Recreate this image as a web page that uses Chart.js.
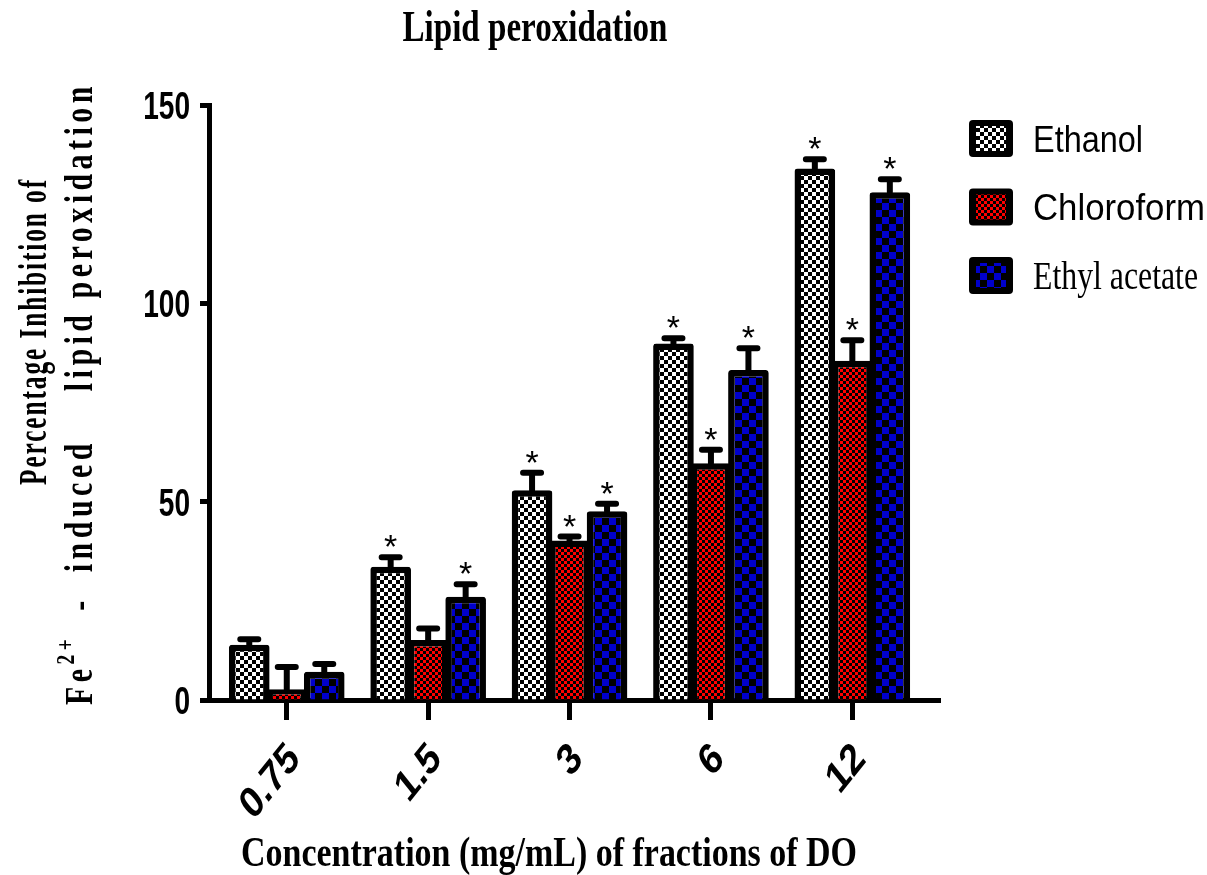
<!DOCTYPE html>
<html>
<head>
<meta charset="utf-8">
<script src="https://cdn.jsdelivr.net/npm/chart.js@4/dist/chart.umd.min.js"></script>
<style>
    html, body { margin: 0; padding: 0; background: #fff; }
</style>
</head>
<body>
<canvas id="grafico-lipid" width="1207" height="875"></canvas>
<script>
// Dados: inibição (%) da peroxidação lipídica por fração, média + erro (só o lado de cima é desenhado)
const concentracoes = ['0.75', '1.5', '3', '6', '12']
const fracoes = ['Ethanol', 'Chloroform', 'Ethyl acetate']

const etanol = [13.9, 33.6, 52.9, 89.9, 134.0]
const etanolErro = [1.4, 2.4, 4.4, 1.3, 2.3]
const etanolSignificativo = [false, true, true, true, true]

const cloroformio = [2.7, 15.1, 40.2, 59.7, 85.5]
const cloroformioErro = [5.6, 2.9, 1.0, 3.4, 5.2]
const cloroformioSignificativo = [false, false, true, true, true]

const acetato = [7.1, 26.0, 47.6, 83.2, 128.0]
const acetatoErro = [2.0, 3.2, 1.9, 5.5, 3.3]
const acetatoSignificativo = [false, true, true, true, true]

const ticksY = [0, 50, 100, 150]

// padrões xadrez de cada fração
function criarPadrao(fundo, frente, tam) {
    const c = document.createElement('canvas')
    c.width = c.height = tam
    const ctx = c.getContext('2d')
    ctx.fillStyle = fundo
    ctx.fillRect(0, 0, tam, tam)
    ctx.fillStyle = frente
    ctx.fillRect(0, 0, tam / 2, tam / 2)
    ctx.fillRect(tam / 2, tam / 2, tam / 2, tam / 2)
    return ctx.createPattern(c, 'repeat')
}

const padroes = [
    criarPadrao('#ffffff', '#000000', 8),
    criarPadrao('#ff0000', '#000000', 6),
    criarPadrao('#0000cc', '#000000', 14)
]

const serifBold = size => `bold ${size}px "Liberation Serif", "Times New Roman", serif`
const sansBold = size => `bold ${size}px "Liberation Sans", Arial, sans-serif`
const sans = size => `${size}px "Liberation Sans", Arial, sans-serif`
const serif = size => `${size}px "Liberation Serif", "Times New Roman", serif`

// escreve partes de texto, estreitando na horizontal até caber na largura pedida
function desenharTexto(ctx, partes, x, y, { largura, escala = 1, espaco = 0, alinhar = 'left', angulo = 0 } = {}) {
    ctx.save()
    ctx.translate(x, y)
    ctx.rotate(angulo)
    ctx.fillStyle = '#000'
    ctx.textAlign = 'left'
    ctx.textBaseline = 'alphabetic'
    ctx.letterSpacing = espaco + 'px'
    const larguras = partes.map(p => {
        ctx.font = p.fonte
        return ctx.measureText(p.texto).width
    })
    const total = larguras.reduce((a, b) => a + b, 0)
    const k = largura ? largura / total : escala
    ctx.scale(k, 1)
    let cursor = alinhar === 'right' ? -total : alinhar === 'center' ? -total / 2 : 0
    partes.forEach((p, i) => {
        ctx.font = p.fonte
        ctx.fillText(p.texto, cursor, p.dy || 0)
        cursor += larguras[i]
    })
    ctx.restore()
}

const barrasErroPlugin = {
    id: 'barrasErro',
    afterDatasetsDraw(chart) {
        const ctx = chart.ctx
        const escalaY = chart.scales.y
        chart.data.datasets.forEach((ds, i) => {
            chart.getDatasetMeta(i).data.forEach((barra, j) => {
                const topo = escalaY.getPixelForValue(ds.data[j].y + ds.erro[j])
                ctx.save()
                ctx.strokeStyle = '#000'
                ctx.lineWidth = 6
                ctx.lineCap = 'round'
                ctx.beginPath()
                ctx.moveTo(barra.x, barra.y)
                ctx.lineTo(barra.x, topo)
                ctx.moveTo(barra.x - 9, topo)
                ctx.lineTo(barra.x + 9, topo)
                ctx.stroke()
                if (ds.significativo[j]) {
                    ctx.fillStyle = '#000'
                    ctx.font = sans(34)
                    ctx.textAlign = 'center'
                    ctx.fillText('*', barra.x, topo + 1)
                }
                ctx.restore()
            })
        })
    }
}

const estiloLegenda = [
    { fonte: sans(36), largura: 110, meiaAltura: 13 },
    { fonte: sans(36), largura: 172, meiaAltura: 13 },
    { fonte: serif(40), largura: 165, meiaAltura: 13 }
]

const textosPlugin = {
    id: 'textosFigura',
    afterDraw(chart) {
        const ctx = chart.ctx
        const { x, y } = chart.scales

        // título
        desenharTexto(ctx, [{ texto: 'Lipid peroxidation', fonte: serifBold(44) }], 535, 41, { largura: 265, alinhar: 'center' })

        // rótulos do eixo y
        y.ticks.forEach(t => {
            desenharTexto(ctx, [{ texto: String(t.value), fonte: sansBold(39) }], 190, y.getPixelForValue(t.value) + 14, { escala: 0.72, alinhar: 'right' })
        })

        // rótulos do eixo x, inclinados
        x.ticks.forEach(t => {
            ctx.save()
            ctx.translate(x.getPixelForValue(t.value) + 8, 752)
            ctx.scale(0.8, 1)
            ctx.rotate(-Math.PI / 4)
            ctx.font = sansBold(44)
            ctx.fillStyle = '#000'
            ctx.textAlign = 'right'
            ctx.textBaseline = 'middle'
            ctx.fillText(concentracoes[t.value], 0, 0)
            ctx.restore()
        })

        // título do eixo x
        desenharTexto(ctx, [{ texto: 'Concentration (mg/mL) of fractions of DO', fonte: serifBold(42) }], 241, 866, { largura: 616 })

        // título do eixo y em duas linhas
        desenharTexto(ctx, [{ texto: 'Percentage Inhibition of', fonte: serifBold(40) }], 46, 485, { largura: 307, espaco: 3, angulo: -Math.PI / 2 })
        desenharTexto(ctx, [
            { texto: 'Fe', fonte: serifBold(40) },
            { texto: '2+', fonte: serifBold(26), dy: -18 },
            { texto: '  -  induced    lipid peroxidation', fonte: serifBold(40) }
        ], 92, 705, { largura: 623, espaco: 6, angulo: -Math.PI / 2 })

        // legenda
        chart.data.datasets.forEach((ds, i) => {
            const topo = 120 + i * 68.5
            ctx.save()
            ctx.fillStyle = '#000'
            ctx.beginPath()
            ctx.roundRect(969, topo, 44, 37, 4)
            ctx.fill()
            ctx.fillStyle = ds.backgroundColor
            ctx.fillRect(976, topo + 6, 30, 25)
            ctx.restore()
            const estilo = estiloLegenda[i]
            desenharTexto(ctx, [{ texto: ds.label, fonte: estilo.fonte }], 1033, topo + 18.5 + estilo.meiaAltura, { largura: estilo.largura })
        })
    }
}

const montarPontos = valores => valores.map((v, i) => ({ x: i, y: v }))

const estiloBarra = {
    borderColor: '#000000',
    borderWidth: 6.5,
    borderRadius: 3,
    categoryPercentage: 0.7955,
    barPercentage: 1.084
}

let graficoLipid = new Chart(
    document.getElementById('grafico-lipid'),
    {
        type: 'bar',
        data: {
            datasets: [
                { label: fracoes[0], data: montarPontos(etanol), erro: etanolErro, significativo: etanolSignificativo, backgroundColor: padroes[0], ...estiloBarra },
                { label: fracoes[1], data: montarPontos(cloroformio), erro: cloroformioErro, significativo: cloroformioSignificativo, backgroundColor: padroes[1], ...estiloBarra },
                { label: fracoes[2], data: montarPontos(acetato), erro: acetatoErro, significativo: acetatoSignificativo, backgroundColor: padroes[2], ...estiloBarra }
            ]
        },
        options: {
            responsive: false,
            animation: false,
            devicePixelRatio: 1,
            layout: { padding: { top: 105, right: 267, bottom: 0, left: 0 } },
            plugins: {
                legend: { display: false },
                tooltip: { enabled: false }
            },
            scales: {
                x: {
                    type: 'linear',
                    bounds: 'data',
                    offset: false,
                    min: -0.55,
                    max: 4.62,
                    z: 1,
                    afterBuildTicks: escala => {
                        escala.ticks = concentracoes.map((c, i) => ({ value: i }))
                    },
                    afterFit: escala => { escala.height = 175 },
                    ticks: { display: false },
                    grid: { offset: false, drawOnChartArea: false, tickLength: 20, tickWidth: 5, tickColor: '#000' },
                    border: { color: '#000', width: 5 }
                },
                y: {
                    min: 0,
                    max: 150,
                    z: 1,
                    afterBuildTicks: escala => {
                        escala.ticks = ticksY.map(v => ({ value: v }))
                    },
                    afterFit: escala => { escala.width = 209 },
                    ticks: { display: false },
                    grid: { drawOnChartArea: false, tickLength: 9, tickWidth: 5, tickColor: '#000' },
                    border: { color: '#000', width: 5 }
                }
            }
        },
        plugins: [barrasErroPlugin, textosPlugin]
    }
)
</script>
</body>
</html>
